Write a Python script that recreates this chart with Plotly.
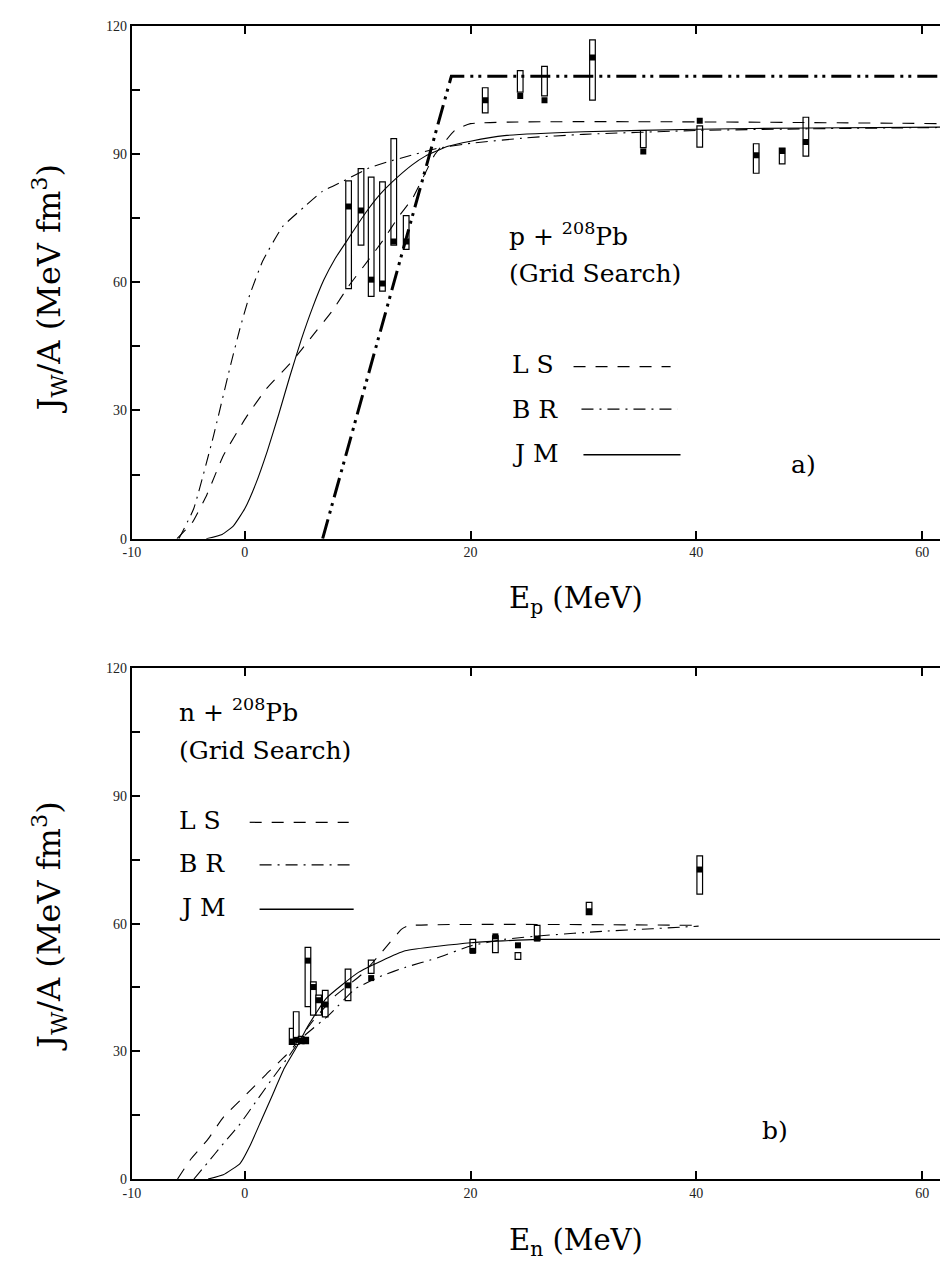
import plotly.graph_objects as go

# ---------------- data: panel a) p + 208Pb ----------------
top_pts_x = [9.2, 10.3, 11.2, 12.2, 13.2, 14.3, 21.3, 24.4, 26.55, 30.8, 35.3, 40.3, 45.3, 47.6, 49.7]
top_pts_y = [77.7, 76.8, 60.6, 59.7, 69.5, 69.5, 102.6, 103.6, 102.6, 112.6, 90.6, 97.8, 89.7, 90.7, 92.8]
top_box_lo = [58.5, 68.7, 56.7, 57.9, 68.7, 67.7, 99.6, 104.5, 103.6, 102.6, 91.5, 91.6, 85.5, 87.7, 89.5]
top_box_hi = [83.7, 86.6, 84.6, 83.5, 93.6, 75.6, 105.5, 109.5, 110.5, 116.7, 95.5, 96.6, 92.4, 91.4, 98.6]

top_ls_x = [-6.0, -4.66, -3.35, -1.9, 0.15, 1.9, 4.23, 5.98, 7.73, 9.18, 10.9, 12.3, 13.6, 14.9, 16.8, 18.6, 20.0, 62.0]
top_ls_y = [0.0, 3.7, 10.3, 19.4, 28.5, 35.0, 41.6, 47.4, 53.2, 59.0, 65.0, 70.0, 75.2, 79.8, 89.7, 95.5, 97.1, 97.1]

top_br_x = [-5.83, -4.52, -2.77, -1.31, -0.44, 0.44, 1.6, 3.35, 5.39, 6.85, 8.75, 11.0, 12.7, 14.2, 17.0, 20.0, 25.0, 30.0, 40.0, 50.0, 62.0]
top_br_y = [0.0, 7.0, 24.0, 40.0, 49.0, 57.0, 65.0, 73.0, 77.9, 81.2, 83.7, 86.7, 88.2, 89.3, 91.3, 92.5, 93.8, 94.6, 95.5, 95.9, 96.2]

top_jm_x = [-3.4, -2.0, -1.0, 0.0, 1.0, 2.0, 3.0, 4.0, 5.0, 6.0, 7.0, 8.0, 9.0, 10.0, 11.0, 12.0, 13.0, 14.8, 16.0, 18.0, 20.0, 23.0, 30.0, 40.0, 50.0, 62.0]
top_jm_y = [0.0, 1.0, 3.0, 7.0, 13.0, 20.5, 29.0, 38.0, 46.5, 54.0, 60.5, 65.5, 69.5, 73.5, 77.3, 80.6, 83.3, 87.4, 89.5, 91.8, 93.0, 94.3, 95.2, 95.8, 96.1, 96.3]

top_thick_x = [6.9, 18.3, 62.0]
top_thick_y = [0.0, 108.2, 108.2]

# ---------------- data: panel b) n + 208Pb ----------------
bot_pts_x = [4.2, 4.56, 5.0, 5.4, 5.6, 6.08, 6.55, 7.13, 9.15, 11.2, 20.2, 22.2, 24.2, 25.9, 30.5, 40.3]
bot_pts_y = [32.3, 32.7, 32.5, 32.5, 51.3, 45.1, 42.0, 41.0, 45.5, 47.2, 53.6, 57.0, 54.9, 56.5, 62.9, 72.7]
bot_box_lo = [31.6, 31.6, 31.8, 31.8, 40.5, 38.5, 38.5, 38.1, 41.9, 48.3, 53.2, 53.2, 51.6, 56.0, 62.1, 66.9]
bot_box_hi = [35.4, 39.3, 33.5, 33.3, 54.4, 46.3, 43.2, 44.3, 49.3, 51.4, 56.3, 57.1, 53.2, 59.6, 65.0, 75.9]

bot_ls_x = [-5.95, -4.8, -3.3, -1.87, 0.18, 1.9, 4.0, 6.0, 8.0, 10.5, 12.2, 13.9, 14.5, 40.0]
bot_ls_y = [0.0, 4.6, 9.2, 14.6, 20.0, 24.6, 30.0, 37.0, 43.0, 48.4, 53.5, 58.7, 59.5, 59.6]

bot_br_x = [-4.5, -3.33, -1.87, -0.4, 1.05, 2.5, 4.0, 5.0, 7.5, 9.8, 12.2, 14.2, 17.1, 20.06, 23.0, 26.5, 31.75, 36.1, 40.2]
bot_br_y = [0.0, 3.7, 8.4, 13.0, 18.4, 23.8, 29.2, 33.0, 38.6, 44.7, 47.8, 49.7, 52.0, 54.8, 56.3, 57.2, 58.2, 58.8, 59.4]

bot_jm_x = [-3.25, -1.9, -0.4, 0.5, 1.5, 2.5, 3.5, 4.6, 5.5, 7.2, 10.1, 14.2, 20.06, 25.9, 62.0]
bot_jm_y = [0.0, 1.0, 3.7, 8.0, 14.0, 20.0, 26.0, 31.0, 35.5, 42.4, 48.6, 53.6, 55.5, 56.3, 56.3]

x_ticks = [-10, 0, 20, 40, 60]
y_ticks = [0, 30, 60, 90, 120]
y_minor = [15, 45, 75, 105]

W, H = 940, 1276
FONT = "DejaVu Serif"


def px(x):
    return x / W


def py(y):
    return 1 - y / H


fig = go.Figure()

LS_DASH = "12px,10px"
BR_DASH = "12px,6px,2px,6px"
THICK_DASH = "20px,6px,3px,5px,3px,6px"


def add_panel(xa, ya, ls, br, jm, box_x, box_lo, box_hi, pts_x, pts_y):
    fig.add_trace(go.Scatter(x=ls[0], y=ls[1], mode="lines", xaxis=xa, yaxis=ya,
                             line=dict(color="black", width=1.1, dash=LS_DASH, shape="spline", smoothing=0.4),
                             showlegend=False, hoverinfo="skip"))
    fig.add_trace(go.Scatter(x=br[0], y=br[1], mode="lines", xaxis=xa, yaxis=ya,
                             line=dict(color="black", width=1.1, dash=BR_DASH, shape="spline", smoothing=0.4),
                             showlegend=False, hoverinfo="skip"))
    fig.add_trace(go.Scatter(x=jm[0], y=jm[1], mode="lines", xaxis=xa, yaxis=ya,
                             line=dict(color="black", width=1.1, shape="spline", smoothing=0.4),
                             showlegend=False, hoverinfo="skip"))
    fig.add_trace(go.Bar(x=box_x, y=[h - l for h, l in zip(box_hi, box_lo)], base=box_lo,
                         width=0.5, xaxis=xa, yaxis=ya,
                         marker=dict(color="white", line=dict(color="black", width=1.2)),
                         showlegend=False, hoverinfo="skip"))
    fig.add_trace(go.Scatter(x=pts_x, y=pts_y, mode="markers", xaxis=xa, yaxis=ya,
                             marker=dict(symbol="square", size=6, color="black"),
                             showlegend=False, hoverinfo="skip"))


add_panel("x", "y", (top_ls_x, top_ls_y), (top_br_x, top_br_y), (top_jm_x, top_jm_y),
          top_pts_x, top_box_lo, top_box_hi, top_pts_x, top_pts_y)
fig.add_trace(go.Scatter(x=top_thick_x, y=top_thick_y, mode="lines", xaxis="x", yaxis="y",
                         line=dict(color="black", width=3, dash=THICK_DASH),
                         showlegend=False, hoverinfo="skip"))
add_panel("x2", "y2", (bot_ls_x, bot_ls_y), (bot_br_x, bot_br_y), (bot_jm_x, bot_jm_y),
          bot_pts_x, bot_box_lo, bot_box_hi, bot_pts_x, bot_pts_y)

x_range = [-10, -10 + (940 - 124) / 11.4]


def xaxis_cfg(anchor):
    return dict(domain=[px(124), 1.0], range=x_range, anchor=anchor,
                tickmode="array", tickvals=x_ticks, ticktext=[str(v) for v in x_ticks],
                ticks="inside", ticklen=8, tickwidth=1.5, tickcolor="black",
                showline=True, linecolor="black", linewidth=2, mirror="ticks",
                showgrid=False, zeroline=False,
                tickfont=dict(family="Liberation Serif", size=14, color="#222"))


def yaxis_cfg(anchor, dom):
    return dict(domain=dom, range=[0, 120], anchor=anchor,
                tickmode="array", tickvals=y_ticks, ticktext=[str(v) for v in y_ticks],
                ticks="inside", ticklen=8, tickwidth=1.5, tickcolor="black",
                minor=dict(tickmode="array", tickvals=y_minor, ticks="inside",
                           ticklen=8, tickwidth=1.5, tickcolor="black"),
                showline=True, linecolor="black", linewidth=2, mirror=False,
                showgrid=False, zeroline=False,
                tickfont=dict(family="Liberation Serif", size=14, color="#222"))


fig.update_layout(
    width=W, height=H, margin=dict(l=0, r=0, t=0, b=0),
    paper_bgcolor="white", plot_bgcolor="white",
    barmode="overlay", showlegend=False,
    xaxis=xaxis_cfg("y"),
    yaxis=yaxis_cfg("x", [py(538), py(19)]),
    xaxis2=xaxis_cfg("y2"),
    yaxis2=yaxis_cfg("x2", [py(1186), py(669)]),
)

ann = []


def text(x, y, s, size=25, xanchor="left", angle=0):
    ann.append(dict(x=px(x), y=py(y), xref="paper", yref="paper", text=s, showarrow=False,
                    xanchor=xanchor, yanchor="middle", textangle=angle,
                    font=dict(family=FONT, size=size, color="black")))


# axis titles
text(40, 285, "J<sub>W</sub>/A (MeV fm<sup>3</sup>)", size=32, xanchor="center", angle=-90)
text(40, 930, "J<sub>W</sub>/A (MeV fm<sup>3</sup>)", size=32, xanchor="center", angle=-90)
text(572, 600, "E<sub>p</sub> (MeV)", size=29, xanchor="center")
text(572, 1250, "E<sub>n</sub> (MeV)", size=29, xanchor="center")

# panel a labels
text(503, 230, "p + <sup>208</sup>Pb")
text(503, 270, "(Grid Search)")
text(506, 362, "L S")
text(506, 407, "B R")
text(506, 452, "J M")
text(788, 463, "a)")

# panel b labels
text(170, 712, "n + <sup>208</sup>Pb")
text(170, 752, "(Grid Search)")
text(170, 823, "L S")
text(170, 867, "B R")
text(170, 911, "J M")
text(758, 1137, "b)")

fig.update_layout(annotations=ann)

shapes = []


def sample(x0, x1, y, dash, width=1.2):
    shapes.append(dict(type="line", xref="paper", yref="paper", x0=px(x0), x1=px(x1),
                       y0=py(y), y1=py(y), line=dict(color="black", width=width, dash=dash)))


sample(570, 668, 364, LS_DASH)
sample(578, 675, 407, BR_DASH)
sample(580, 678, 453, "solid", 1.5)
sample(243, 343, 825, LS_DASH)
sample(253, 345, 868, BR_DASH)
sample(253, 348, 913, "solid", 1.5)
fig.update_layout(shapes=shapes)

fig.write_html("out.html")
